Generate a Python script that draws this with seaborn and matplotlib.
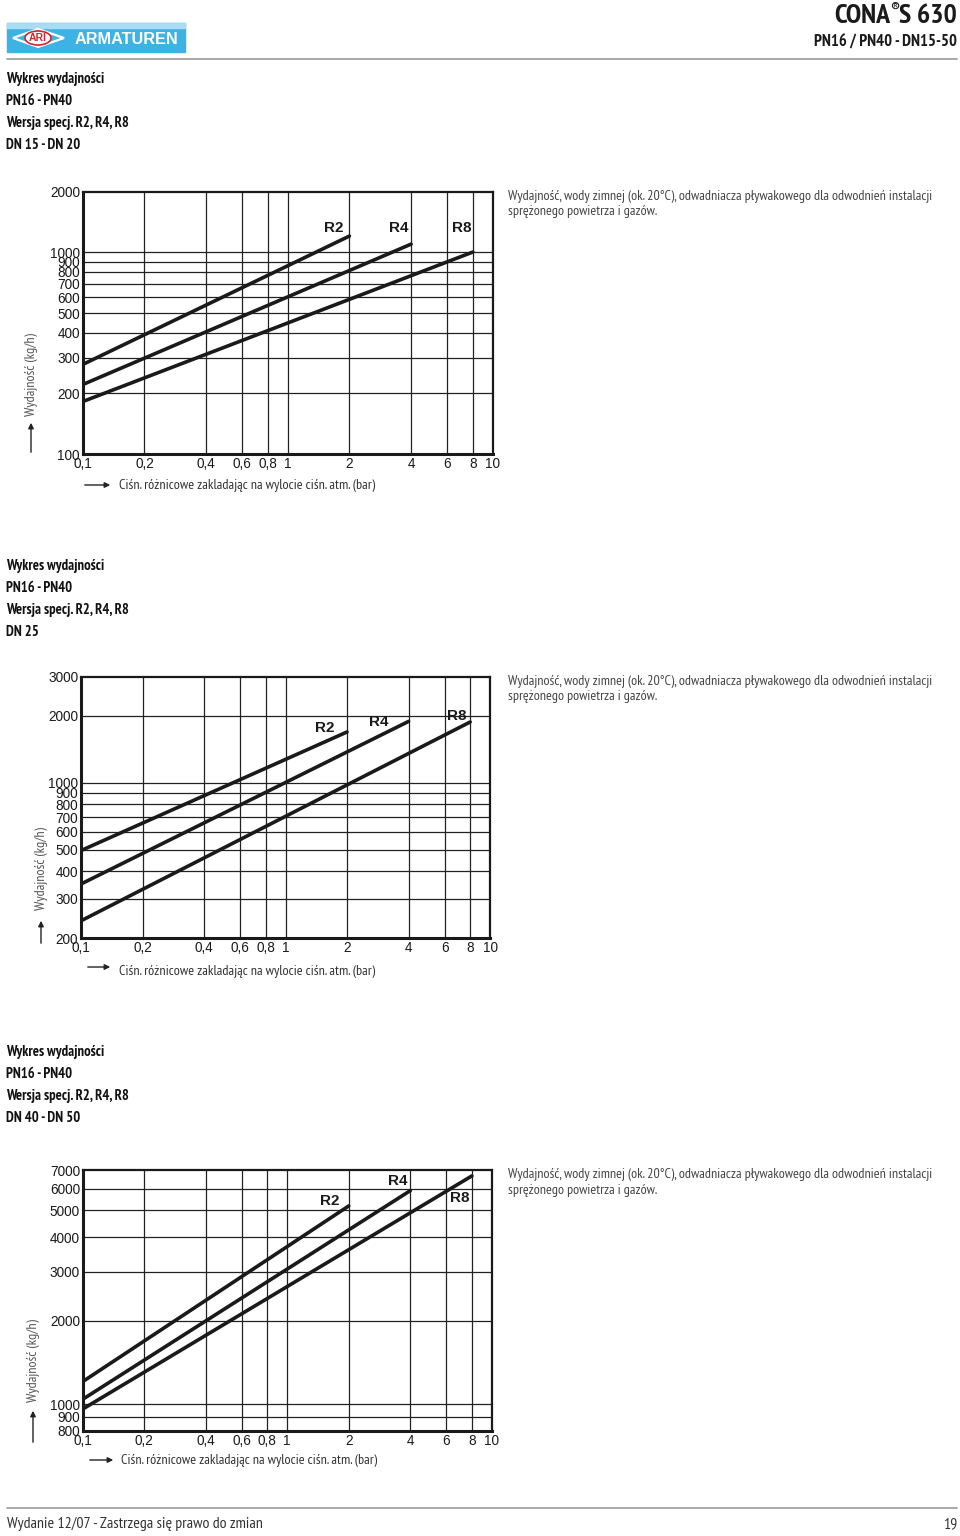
import numpy as np
import pandas as pd
import seaborn as sns
import matplotlib.pyplot as plt
from matplotlib import font_manager
from matplotlib.patches import Rectangle, Polygon, Ellipse

# pressure (bar) at start and end of each curve
p_r2 = [0.1, 2]
p_r4 = [0.1, 4]
p_r8 = [0.1, 8]

# capacity (kg/h)
dn15_r2 = [278, 1205]
dn15_r4 = [221, 1099]
dn15_r8 = [182, 1004]

dn25_r2 = [495, 1692]
dn25_r4 = [350, 1888]
dn25_r8 = [239, 1876]

dn40_r2 = [1206, 5193]
dn40_r4 = [1041, 5897]
dn40_r8 = [960, 6664]

x_ticks = [0.1, 0.2, 0.4, 0.6, 0.8, 1, 2, 4, 6, 8, 10]
x_ticklabels = ["0,1", "0,2", "0,4", "0,6", "0,8", "1", "2", "4", "6", "8", "10"]

y_ticks_1 = [100, 200, 300, 400, 500, 600, 700, 800, 900, 1000, 2000]
y_ticks_2 = [200, 300, 400, 500, 600, 700, 800, 900, 1000, 2000, 3000]
y_ticks_3 = [800, 900, 1000, 2000, 3000, 4000, 5000, 6000, 7000]

series_names = ["R2", "R4", "R8"]

headers = [
    ["Wykres wydajności", "PN16 - PN40", "Wersja specj. R2, R4, R8", "DN 15 - DN 20"],
    ["Wykres wydajności", "PN16 - PN40", "Wersja specj. R2, R4, R8", "DN 25"],
    ["Wykres wydajności", "PN16 - PN40", "Wersja specj. R2, R4, R8", "DN 40 - DN 50"],
]
desc = ("Wydajność, wody zimnej (ok. 20°C), odwadniacza pływakowego dla odwodnień instalacji\n"
        "sprężonego powietrza i gazów.")
xlabel = "Ciśn. różnicowe zakladając na wylocie ciśn. atm. (bar)"
ylabel = "Wydajność (kg/h)"

sns.set_style("white")

# pick a narrow face that also has a bold weight
weights = {}
for f in font_manager.fontManager.ttflist:
    weights.setdefault(f.name, set()).add(f.weight if isinstance(f.weight, int) else 400)
narrow_pref = ["Liberation Sans Narrow", "Arial Narrow", "PT Sans Narrow", "Archivo Narrow",
               "Roboto Condensed", "Fira Sans Condensed", "IBM Plex Sans Condensed",
               "Encode Sans Condensed", "Pragati Narrow", "Open Sans Condensed"]
narrow = [n for n in narrow_pref if n in weights and max(weights[n]) >= 600][:1]
if not narrow:
    narrow = [n for n in narrow_pref if n in weights][:1]
NARROW = narrow + ["Liberation Sans", "DejaVu Sans"]
ARIAL = ["Liberation Sans", "DejaVu Sans"]
plt.rcParams["font.family"] = ARIAL

W, H = 960, 1536
fig = plt.figure(figsize=(9.6, 15.36), dpi=100)


def fx(x):
    return x / W


def fy(y):
    return 1 - y / H


def make_df(vals):
    rows = []
    for name, p, v in zip(series_names, [p_r2, p_r4, p_r8], vals):
        for pi, vi in zip(p, v):
            rows.append({"p": pi, "q": vi, "typ": name})
    return pd.DataFrame(rows)


def fit_width(t, target_px):
    # shrink or grow a text so it spans target_px
    r = fig.canvas.get_renderer()
    w = t.get_window_extent(renderer=r).width
    t.set_fontsize(t.get_fontsize() * target_px / w)
    return t


# layout of each chart in page pixels: left, top, right, bottom
charts = [
    dict(box=(82.7, 191.7, 492.7, 454), ylim=(100, 2000), yt=y_ticks_1,
         vals=[dn15_r2, dn15_r4, dn15_r8], head_y=79,
         labels=[(334, 228), (399, 228), (462, 228)],
         ylab=(31, 375), yarrow=(31, 455, 420),
         xarrow=(82, 113, 485), xlab=(119, 485)),
    dict(box=(81, 676.7, 490, 938), ylim=(200, 3000), yt=y_ticks_2,
         vals=[dn25_r2, dn25_r4, dn25_r8], head_y=566,
         labels=[(325, 728), (379, 722), (457, 716)],
         ylab=(41, 869), yarrow=(41, 946, 918),
         xarrow=(85, 113, 967), xlab=(119, 971)),
    dict(box=(82.7, 1170, 491.7, 1431), ylim=(800, 7000), yt=y_ticks_3,
         vals=[dn40_r2, dn40_r4, dn40_r8], head_y=1052,
         labels=[(330, 1201), (398, 1181), (460, 1198)],
         ylab=(33, 1361), yarrow=(33, 1445, 1408),
         xarrow=(87, 116, 1460), xlab=(121, 1460)),
]

for c, head in zip(charts, headers):
    l, t, r, b = c["box"]
    ax = fig.add_axes([fx(l), fy(b), (r - l) / W, (b - t) / H])
    df = make_df(c["vals"])
    sns.lineplot(data=df, x="p", y="q", hue="typ", palette=["#1a1a1a"] * 3,
                 linewidth=2.6, legend=False, ax=ax)
    ax.set_xscale("log")
    ax.set_yscale("log")
    ax.set_xlim(0.1, 10)
    ax.set_ylim(*c["ylim"])
    ax.set_xticks(x_ticks)
    ax.set_xticklabels(x_ticklabels)
    ax.set_yticks(c["yt"])
    ax.set_yticklabels([str(v) for v in c["yt"]])
    ax.minorticks_off()
    ax.tick_params(length=0, labelsize=9.8, pad=2, colors="#1a1a1a")
    ax.tick_params(axis="y", pad=2)
    ax.set_xlabel("")
    ax.set_ylabel("")
    for v in x_ticks[1:-1]:
        ax.axvline(v, color="#222222", lw=0.9, zorder=0)
    for v in c["yt"][1:-1]:
        ax.axhline(v, color="#222222", lw=0.9, zorder=0)
    for side in ["left", "bottom"]:
        ax.spines[side].set_linewidth(2.2)
        ax.spines[side].set_color("#1a1a1a")
    for side in ["top", "right"]:
        ax.spines[side].set_linewidth(1.6)
        ax.spines[side].set_color("#1a1a1a")

    for name, (lx, ly) in zip(series_names, c["labels"]):
        fig.text(fx(lx), fy(ly), name, ha="center", va="center", fontsize=11,
                 fontweight="bold", color="#1a1a1a")

    # axis titles with arrows
    ty = fig.text(fx(c["ylab"][0]), fy(c["ylab"][1]), ylabel, rotation=90, ha="center",
                  va="center", fontsize=9.5, color="#555555", family=NARROW)
    r_ = fig.canvas.get_renderer()
    hgt = ty.get_window_extent(renderer=r_).height
    ty.set_fontsize(ty.get_fontsize() * 83 / hgt)
    ax_x, ay0, ay1 = c["yarrow"]
    ax.annotate("", xy=(fx(ax_x), fy(ay1)), xytext=(fx(ax_x), fy(ay0)),
                xycoords="figure fraction", textcoords="figure fraction",
                annotation_clip=False,
                arrowprops=dict(arrowstyle="-|>", color="#222222", lw=1,
                                mutation_scale=8))
    x0, x1, ya = c["xarrow"]
    ax.annotate("", xy=(fx(x1), fy(ya)), xytext=(fx(x0), fy(ya)),
                xycoords="figure fraction", textcoords="figure fraction",
                annotation_clip=False,
                arrowprops=dict(arrowstyle="-|>", color="#222222", lw=1,
                                mutation_scale=8))
    tx = fig.text(fx(c["xlab"][0]), fy(c["xlab"][1]), xlabel, ha="left", va="center",
                  fontsize=9.5, color="#333333", family=NARROW)
    fit_width(tx, 256)

    # description right of chart
    td = fig.text(fx(508), fy(t - 2), desc, ha="left", va="top", fontsize=9.3,
                  color="#444444", family=NARROW, linespacing=1.25)
    fit_width(td, 422)

    # section header lines
    for i, line in enumerate(head):
        th = fig.text(fx(6), fy(c["head_y"] + 22 * i), line, ha="left", va="center",
                      fontsize=9.5, fontweight="bold", color="#111111", family=NARROW)
        if i == 0:
            fit_width(th, 99)
            hs = th.get_fontsize()
        else:
            th.set_fontsize(hs)

# page header: logo
fig.patches.append(Rectangle((fx(7), fy(52)), (185 - 7) / W, 29 / H,
                             transform=fig.transFigure, color="#3db3e5", zorder=1))
fig.patches.append(Rectangle((fx(7), fy(28)), (185 - 7) / W, 5 / H,
                             transform=fig.transFigure, color="#a9dcf3", zorder=2))
fig.patches.append(Polygon([(fx(13), fy(38)), (fx(38), fy(29)), (fx(64), fy(38)),
                            (fx(38), fy(47))], closed=True, transform=fig.transFigure,
                           fill=False, edgecolor="white", lw=1.6, zorder=3))
fig.patches.append(Ellipse((fx(38), fy(38)), 26 / W, 14 / H, transform=fig.transFigure,
                           facecolor="white", edgecolor="#d22630", lw=1.2, zorder=4))
fig.text(fx(38), fy(38), "ARI", ha="center", va="center", fontsize=7.5,
         fontweight="bold", color="#d22630", zorder=5)
ta = fig.text(fx(75), fy(39), "ARMATUREN", ha="left", va="center", fontsize=10,
              fontweight="bold", color="white", zorder=5)
fit_width(ta, 103)

# page header: title, placed right to left
rend = fig.canvas.get_renderer()
t1 = fig.text(fx(957), fy(16), "S 630", ha="right", va="center", fontsize=20,
              fontweight="bold", color="#1a1a1a", family=NARROW)
x_s = t1.get_window_extent(renderer=rend).x0
t2 = fig.text(x_s / W, fy(9), "®", ha="right", va="center", fontsize=11,
              fontweight="bold", color="#1a1a1a", family=NARROW)
x_r = t2.get_window_extent(renderer=rend).x0
fig.text(x_r / W, fy(16), "CONA", ha="right", va="center", fontsize=20,
         fontweight="bold", color="#1a1a1a", family=NARROW)
tp = fig.text(fx(957), fy(43), "PN16 / PN40 - DN15-50", ha="right", va="center",
              fontsize=11.5, fontweight="bold", color="#1a1a1a", family=NARROW)
fit_width(tp, 144)
fig.add_artist(plt.Line2D([fx(7), fx(957)], [fy(59), fy(59)], color="#9a9a9a", lw=1.2))

# footer
fig.add_artist(plt.Line2D([fx(7), fx(957)], [fy(1508), fy(1508)], color="#9a9a9a", lw=1.2))
tf = fig.text(fx(7), fy(1524), "Wydanie 12/07 - Zastrzega się prawo do zmian", ha="left",
              va="center", fontsize=9.8, color="#333333", family=NARROW)
fit_width(tf, 255)
fig.text(fx(957), fy(1524), "19", ha="right", va="center", fontsize=tf.get_fontsize(),
         color="#333333", family=NARROW)

fig.savefig("out.png", dpi=100)
